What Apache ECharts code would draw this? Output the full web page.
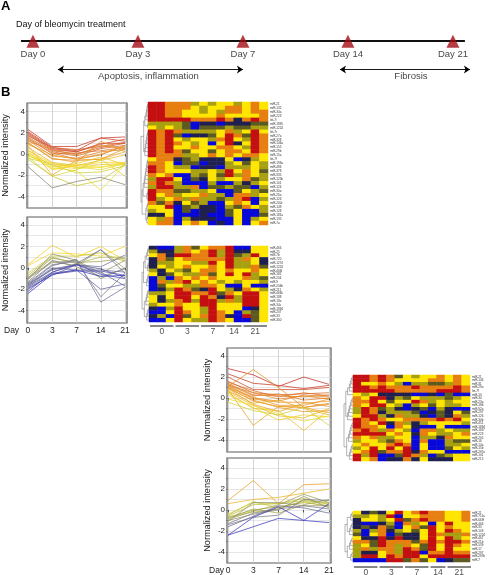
<!DOCTYPE html>
<html><head><meta charset="utf-8">
<style>html,body{margin:0;padding:0;background:#fff}#c{width:488px;height:575px}</style>
<script src="https://cdn.jsdelivr.net/npm/echarts@6/dist/echarts.min.js"></script>
</head><body><div id="c"></div>
<script>
const dayLabels = ["Day 0","Day 3","Day 7","Day 14","Day 21"];
const dayTicks = ["0","3","7","14","21"];
const timelinePositions = [0,1,2,3,4];
const timelineBaseline = [-0.114,4.114];
const apoptosisSpan = [0.238,2];
const fibrosisSpan = [2.924,4.162];
const apoptosisCaptionAt = 1.1;
const fibrosisCaptionAt = 3.6;
const arrowCaptions = ["Apoptosis, inflammation","Fibrosis"];

const linesA = [
[2.3,0.7,0.7,1.5,1.6],[2.1,0.6,0.3,1.5,1.2],[2.0,0.5,0.2,1.0,1.0],[1.9,0.4,0.2,0.9,1.4],[1.8,0.3,0.0,0.6,1.0],
[1.7,0.6,0.4,0.7,1.1],[1.6,0.2,-0.2,0.5,0.8],[1.5,0.0,0.1,0.3,0.6],[1.4,0.1,-0.5,-0.1,0.8],[1.3,-0.2,-0.4,0.2,0.4],
[1.2,0.4,-0.1,0.8,0.5],[1.1,-0.5,-0.6,-0.5,0.5],[1.0,-0.4,-0.8,1.2,0.2],[0.9,-0.1,-0.5,0.0,0.7],[0.8,-2.0,-0.6,-0.5,0.2],
[0.6,-0.8,-1.1,-0.6,-0.1],[0.4,-1.2,-0.9,-0.3,-1.0],[0.3,-0.9,-1.3,-1.0,-0.9],[0.1,-1.1,-1.4,-1.2,-1.0],[0.0,-1.4,-1.0,-1.3,-0.8],
[-0.1,-1.3,-1.6,-3.4,-1.0],[-0.2,-0.9,-1.2,-1.5,-0.9],[-0.3,-2.1,-1.5,-0.5,-2.1],[-0.4,-1.0,-1.8,-1.7,-1.1],[-0.5,-2.1,-3.0,-2.5,-1.0],
[0.2,-1.5,-1.1,-0.8,-0.8],[-1.2,-3.2,-2.6,-2.2,-2.9]];
const linesB = [
[0.3,2.1,1.0,2.0,0.7],[0.2,1.4,1.3,1.1,2.0],[-0.5,1.1,1.1,1.4,0.6],[-0.7,1.0,0.4,1.0,1.0],[-0.9,0.9,0.5,0.6,0.9],
[-0.9,0.6,0.2,1.7,-0.1],[-1.0,0.5,0.7,-0.5,0.7],[-1.1,1.3,0.7,-1.0,0.0],[-1.3,0.7,0.1,-0.8,-0.1],[-1.4,0.3,0.6,-2.7,-0.5],
[-1.5,0.2,0.8,-3.2,-1.8],[-1.5,-0.2,0.3,0.1,1.2],[-1.6,0.0,-0.2,-0.2,-0.4],[-1.7,-0.1,0.3,-0.4,-1.7],[-1.7,-0.4,0.4,1.7,-0.5],
[-1.8,-0.5,-0.2,-2.0,-1.5],[-1.9,-0.7,0.3,-0.1,-0.9],[-2.0,-0.6,-0.3,-0.3,-0.7],[-2.2,-0.4,0.3,-0.6,-1.0],[-2.4,-0.6,-0.2,-0.8,-0.7]];
const linesC = [
[2.8,2.2,1.1,2.0,1.3],[2.3,1.4,1.2,0.9,1.2],[2.0,0.8,0.8,0.8,1.0],[1.6,0.5,0.3,0.4,0.5],[1.5,0.7,0.1,0.5,0.2],
[1.4,0.3,0.2,0.1,0.3],[1.3,0.2,0.4,-0.2,0.0],[1.2,0.0,-0.3,0.3,0.1],[1.2,0.5,-0.1,0.2,-0.1],[1.1,2.7,1.0,-0.9,-0.5],
[1.1,-0.1,-0.4,-0.4,-0.8],[1.0,0.1,-0.7,-0.7,-0.1],[1.0,-0.3,-0.8,-0.9,-0.6],[0.9,-0.2,-0.9,-1.3,-1.2],[0.9,-0.6,-1.3,-0.5,-0.3],
[0.8,-2.6,-0.8,-0.9,-1.4],[0.7,-0.5,-0.2,-1.0,-1.6],[0.6,-0.7,-1.7,-1.9,-1.0],[0.5,-1.0,-1.2,-3.1,-1.1],[0.3,-0.9,-2.1,-1.6,-1.8],
[-0.1,-0.7,-1.5,-2.2,-1.7],[-0.4,-1.2,-1.6,-0.9,-2.6]];
const linesD = [
[0.9,2.8,0.6,2.4,2.5],[0.6,1.0,1.2,1.6,2.0],[-0.4,0.7,0.6,0.9,0.6],[-0.5,0.8,0.2,0.8,0.3],[-0.6,0.5,0.6,1.1,0.5],
[-0.7,-0.2,0.1,0.9,0.7],[-0.7,0.0,0.3,0.7,0.4],[-0.8,0.1,-0.3,0.5,1.0],[-0.9,-0.1,0.5,1.5,0.7],[-1.0,-0.4,0.0,1.3,0.2],
[-1.1,0.7,0.7,0.4,0.4],[-1.3,-0.3,0.1,0.4,0.1],[-1.4,-0.7,-0.5,1.0,0.9],[-1.6,-0.6,0.4,0.2,-0.3],[-2.4,-0.7,0.3,-1.0,0.6],[-2.4,-1.6,-0.8,-1.0,-1.2]];

// heat levels: 0 blue, 1 navy, 2 dark olive, 3 olive, 4 yellow, 5 orange, 6 red
const heatA = ["66555343443454","66555434455454","66554434355455","66554444544445","66666555651565","33332011011122","43432022232233",
"65653333453464","65620112465265","65643443564365","65654340461465","65644544554365","65652442455465","65553345454554","45512311140134",
"55402201134243","65433011033343","65444334364542","54500324263543","36640214344523","56530003003134","36633502232203","65522334002432",
"64534453305534","63453533235603","52514230045404","44602311032543","34402011024003","11400010024002","43503111004034","45504540104045"];
const heatB = ["10035245560044","31135456361144","45166556362364","15245555563541","13344336463341","14345445463352","31432455454454",
"41243352464634","03054545444532","05356454343443","02443355400400","01365216431543","33466556254664","41466465163664","41356366353664",
"34454466444664","10364436444014","00465436540324","13062456510624","00464336540024"];
const heatC = ["66565243445454","66565444455454","64454303322354","66565556555565","66666555556665","43411110010200","54661324333234",
"55642446534344","54664303424334","36523101203100","36513332012142","46631533102153","65654455556564","65461531344443","65540541004000",
"56535430553433","66664541543345","54533440331544","34432540500322","45445650400334","34646460400243","45625561544000","63600265302344","64501151411144"];
const heatD = ["41214645655445","33436044555445","14434625655445","10013053404644","12152045264544","30351342464654","20450211465335",
"41161611464634","55265552565665","34265354264654","35355365264644","31145366055655","36646566466666","00006625240122"];

const labelsA = ["miR-21","miR-132","miR-34a","miR-223","let-7i","miR-1895","miR-1224","let-7c","miR-27a","miR-328","miR-146a","miR-155","miR-29b","miR-15a","let-7f",
"miR-199a","miR-486","miR-378","miR-335","miR-125b","miR-101","miR-124","miR-30a","miR-26a","miR-126","miR-200c","miR-149","miR-128","miR-181a","miR-135","miR-7a"];
const labelsB = ["miR-466","miR-25","miR-7b","miR-720","miR-1274","miR-1224","miR-466f","miR-182","miR-204","miR-9","miR-204b","miR-211","miR-466k","miR-188","miR-18a","miR-34c","miR-1894","miR-207","miR-33","miR-300"];
const labelsC = ["miR-21","miR-146","miR-31","miR-29a","let-7f","miR-10","miR-34","miR-23a","miR-18b","miR-92a","miR-297","miR-126","miR-30b","miR-451","miR-1894","miR-1187","miR-223","miR-205","miR-16","miR-14a","miR-15b","miR-297a","miR-101","miR-215"];
const labelsD = ["miR-21","miR-711a","miR-669f","miR-466","miR-33","miR-103","miR-1224","miR-467","miR-21b","miR-539","miR-17","miR-297","miR-297b","miR-7"];

// dendrograms: nested groups, integers are runs of neighbouring rows
const treeA = [[[5,2],[7]],[[8,3],[[3],3]]];
const treeB = [[[4,3],[4]],[[5],[4]]];
const treeC = [[[5,1],[7]],[[6],[5]]];
const treeD = [[[3],[4]],[[4],[3]]];

const dayGroups = [[0,3],[3,6],[6,9],[9,11],[11,14]];

const heatColors = ["#0808d8","#202050","#5c5a20","#a8a010","#ffe600","#e67e10","#c40f10"];
const lineStops = [[-2.4,[60,60,190]],[-1.5,[115,115,150]],[-1.0,[150,150,100]],[-0.5,[200,200,50]],[0,[245,228,40]],[1,[232,150,35]],[2,[205,70,40]],[3,[185,40,40]]];
function lineColor(v){
  let s=lineStops; if(v<=s[0][0]) return 'rgb('+s[0][1]+')';
  for(let i=1;i<s.length;i++){ if(v<=s[i][0]){ const t=(v-s[i-1][0])/(s[i][0]-s[i-1][0]);
    return 'rgb('+s[i][1].map((c,k)=>Math.round(s[i-1][1][k]+(c-s[i-1][1][k])*t)).join(',')+')'; } }
  return 'rgb('+s[s.length-1][1]+')';
}
const font='"Liberation Sans",Arial,sans-serif';
const grids=[],xAxes=[],yAxes=[],series=[];
function addAxes(g,x,y){ grids.push(g); const i=grids.length-1; xAxes.push(Object.assign({gridIndex:i},x)); yAxes.push(Object.assign({gridIndex:i},y)); return i; }

function addLinePanel(lines,box,yr,showX){
  const i=addAxes({left:box[0],top:box[1],width:box[2]-box[0],height:box[3]-box[1],show:true,borderColor:'#5a5a5a',borderWidth:1.2,backgroundColor:'#fff'},
  {type:'value',min:-0.04,max:4.08,axisLine:{show:false},
   axisTick:{show:true,length:2.5,customValues:timelinePositions,lineStyle:{color:'#333',width:0.8}},
   axisLabel:{show:showX,customValues:timelinePositions,formatter:v=>dayTicks[v],fontFamily:font,fontSize:8.5,color:'#222',margin:3},
   splitLine:{show:true,lineStyle:{color:'#c4c4c4',width:0.7}}},
  {type:'value',min:yr[0],max:yr[1],axisLine:{show:false},name:'Normalized intensity',nameLocation:'middle',nameGap:box[4],
   nameTextStyle:{fontFamily:font,fontSize:9.2,color:'#222'},
   axisTick:{show:true,length:2,customValues:[-4,-3,-2,-1,0,1,2,3,4],lineStyle:{color:'#555',width:0.6}},
   axisLabel:{customValues:[-4,-2,0,2,4],fontFamily:font,fontSize:8,color:'#222',margin:2},
   splitLine:{show:true,lineStyle:{color:'#dcdcdc',width:0.7}}});
  lines.forEach(l=>series.push({type:'line',xAxisIndex:i,yAxisIndex:i,symbol:'none',silent:true,animation:false,
    data:l.map((v,k)=>[timelinePositions[k],v]),lineStyle:{color:lineColor(l[0]),width:0.9,opacity:0.85}}));
}
function addHeat(rows,labels,box){
  const cols=[...Array(14).keys()].map(String);
  const i=addAxes({left:box[0],top:box[1],width:box[2]-box[0],height:box[3]-box[1]},
   {type:'category',data:cols,show:false},
   {type:'category',data:labels,inverse:true,position:'right',axisLine:{show:false},axisTick:{show:false},
    axisLabel:{interval:0,fontSize:3,fontFamily:font,color:'#333',margin:2},splitLine:{show:false}});
  const data=[]; rows.forEach((r,y)=>[...r].forEach((c,x)=>{const v=+c;data.push({value:[x,y,v],itemStyle:{color:heatColors[v]}});}));
  series.push({type:'heatmap',xAxisIndex:i,yAxisIndex:i,data,silent:true,animation:false,progressive:0});
}
function layoutTree(node,start,out){
  if(typeof node==='number') {
    let cur={x:1,y:start+0.5,next:start+1};
    for(let k=1;k<node;k++){ const nx=cur.x-0.08; const y=start+k+0.5;
      out.push([nx,cur.y],[cur.x,cur.y],null,[nx,y],[1,y],null,[nx,cur.y],[nx,y],null);
      cur={x:nx,y:(cur.y+y)/2,next:start+k+1}; }
    return cur;
  }
  if(node.length===1) return layoutTree(node[0],start,out);
  let pos=start,kids=[]; node.forEach(n=>{const r=layoutTree(n,pos,out);kids.push(r);pos=r.next;});
  const nx=Math.min(...kids.map(k=>k.x))-0.16;
  kids.forEach(k=>out.push([nx,k.y],[k.x,k.y],null));
  out.push([nx,kids[0].y],[nx,kids[kids.length-1].y],null);
  return {x:nx,y:kids.reduce((a,k)=>a+k.y,0)/kids.length,next:pos};
}
function addDendro(tree,n,box){
  const out=[]; const root=layoutTree(tree,0,out);
  const i=addAxes({left:box[0],top:box[1],width:box[2]-box[0],height:box[3]-box[1]},
   {type:'value',min:root.x,max:1,show:false},{type:'value',min:0,max:n,inverse:true,show:false});
  series.push({type:'line',xAxisIndex:i,yAxisIndex:i,symbol:'none',silent:true,animation:false,connectNulls:false,
    data:out.map(p=>p===null?[null,null]:p),lineStyle:{color:'#666',width:0.5}});
}
function addDayBars(box,fs){
  const i=addAxes({left:box[0],top:box[1],width:box[2]-box[0],height:box[3]-box[1]},
   {type:'value',min:0,max:14,show:false},{type:'value',min:0,max:1,show:false});
  dayGroups.forEach((g,k)=>{
    series.push({type:'line',xAxisIndex:i,yAxisIndex:i,symbol:'none',silent:true,animation:false,clip:false,
      data:[[g[0]+0.12,0.5],[g[1]-0.12,0.5]],lineStyle:{color:'#111',width:1}});
    series.push({type:'scatter',xAxisIndex:i,yAxisIndex:i,symbolSize:1,silent:true,animation:false,clip:false,itemStyle:{color:'transparent'},
      data:[[(g[0]+g[1])/2,0.5]],label:{show:true,formatter:dayTicks[k],position:'bottom',distance:1,fontFamily:font,fontSize:fs,color:'#222'}});
  });
}
// timeline
const tl=addAxes({left:15,top:30,width:460,height:50},
  {type:'value',min:-0.171,max:4.21,show:false},{type:'value',min:0,max:50,inverse:true,show:false});
series.push({type:'line',xAxisIndex:tl,yAxisIndex:tl,symbol:'none',silent:true,animation:false,z:2,
  data:timelineBaseline.map(x=>[x,11]),lineStyle:{color:'#111',width:2.2},
  markLine:{silent:true,animation:false,symbol:['arrow','arrow'],symbolSize:6,lineStyle:{color:'#000',width:0.9,type:'solid'},label:{show:false},
    data:[[{coord:[apoptosisSpan[0],39.5]},{coord:[apoptosisSpan[1],39.5]}],[{coord:[fibrosisSpan[0],39.5]},{coord:[fibrosisSpan[1],39.5]}]]}});
series.push({type:'scatter',xAxisIndex:tl,yAxisIndex:tl,symbol:'triangle',symbolSize:13,silent:true,animation:false,z:3,
  data:timelinePositions.map(x=>[x,11.3]),itemStyle:{color:'#a50d15'},
  label:{show:true,position:'bottom',distance:2,formatter:p=>dayLabels[p.dataIndex],fontFamily:font,fontSize:9.5,color:'#111'}});
series.push({type:'scatter',xAxisIndex:tl,yAxisIndex:tl,symbolSize:1,silent:true,animation:false,itemStyle:{color:'transparent'},
  data:[[apoptosisCaptionAt,46],[fibrosisCaptionAt,46]],
  label:{show:true,position:'inside',formatter:p=>arrowCaptions[p.dataIndex],fontFamily:font,fontSize:9.5,color:'#111'}});

addLinePanel(linesA,[23,103,127,208,17],[-5.1,4.8],false);
addLinePanel(linesB,[23,217,127,323,17],[-5.15,4.75],true);
addLinePanel(linesC,[227,348,331,452,15],[-5.14,4.76],false);
addLinePanel(linesD,[227,458,331,563,15],[-5.05,4.95],true);

addHeat(heatA,labelsA,[148,102,268,225]);
addHeat(heatB,labelsB,[149,246,268,322]);
addHeat(heatC,labelsC,[353,375,472,461]);
addHeat(heatD,labelsD,[353,511,472,562]);

addDendro(treeA,labelsA.length,[141,102,148,225]);
addDendro(treeB,labelsB.length,[142,246,149,322]);
addDendro(treeC,labelsC.length,[344,375,353,461]);
addDendro(treeD,labelsD.length,[345,511,353,562]);

addDayBars([149,325,268,327],8.5);
addDayBars([353,566,472,568],8.5);

const titles=[
 {text:'A',left:1,top:0,textStyle:{fontFamily:font,fontSize:13,fontWeight:'bold',color:'#000'}},
 {text:'B',left:1,top:86,textStyle:{fontFamily:font,fontSize:13,fontWeight:'bold',color:'#000'}},
 {text:'Day of bleomycin treatment',left:16,top:20,textStyle:{fontFamily:font,fontSize:9,fontWeight:'normal',color:'#111'}},
 {text:'Day',left:4,top:326,textStyle:{fontFamily:font,fontSize:8.5,fontWeight:'normal',color:'#222'}},
 {text:'Day',left:209,top:566,textStyle:{fontFamily:font,fontSize:8.5,fontWeight:'normal',color:'#222'}}
].map(t=>Object.assign({padding:0},t));

const chart=echarts.init(document.getElementById('c'),null,{renderer:'canvas'});
chart.setOption({animation:false,backgroundColor:'#fff',title:titles,grid:grids,xAxis:xAxes,yAxis:yAxes,series});
</script></body></html>
